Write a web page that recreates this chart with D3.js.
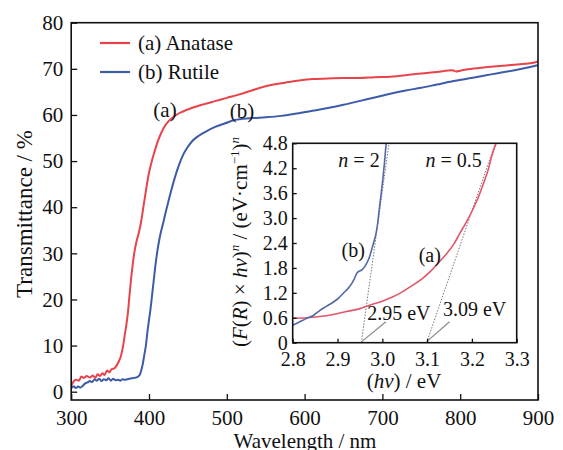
<!DOCTYPE html>
<html lang="en">
<head>
    <meta charset="UTF-8">
    <title>Transmittance of TiO2</title>
    <script src="https://d3js.org/d3.v7.min.js"></script>
    <style>
        body { margin: 0; background: #fff; }
        text { font-family: "Liberation Serif", "Times New Roman", serif; fill: #111; }
        .axis path { display: none; }
        .axis line { stroke: #111; stroke-width: 1.3px; }
        .frame { fill: none; stroke: #111; stroke-width: 1.6px; }
    </style>
</head>
<body>
    <script>
        // main chart: transmittance vs wavelength
        const anatase = [
            [300,1.3],[303,2.2],[306,2.6],[310,2.4],[313,3.3],[316,3.0],[320,3.4],[324,3.1],[328,3.5],[331,3.0],
            [334,3.8],[337,3.4],[340,4.0],[343,3.6],[346,4.6],[349,4.2],[352,4.9],[355,5.0],[358,5.6],[361,6.5],
            [364,7.8],[367,10.2],[369,12.5],[371,14.6],[373,17.3],[375,21],[377,24.5],[379,27.5],[381,30],[384,32.6],
            [387,34.5],[390,37],[393,40.3],[396,43.5],[399,46.6],[403,49.6],[407,52],[412,54.6],[416,56.2],[420,57.5],
            [425,58.6],[430,59.4],[436,60.1],[443,60.7],[455,61.5],[470,62.3],[485,63],[500,63.7],[515,64.4],[530,65.2],
            [545,66],[560,66.6],[575,67.0],[590,67.4],[610,67.8],[630,67.9],[650,68.0],[670,68.0],[690,68.2],[710,68.3],
            [730,68.6],[750,69.0],[770,69.3],[790,69.7],[795,69.4],[800,69.6],[810,69.9],[830,70.3],[850,70.6],
            [870,70.9],[890,71.2],[900,71.6]
        ];
        const rutile = [
            [300,0.7],[303,1.2],[306,0.8],[309,1.1],[312,0.9],[315,1.3],[318,1.8],[321,2.0],[324,2.3],[327,2.1],
            [330,2.7],[333,2.4],[336,2.8],[339,2.3],[342,2.7],[345,2.5],[348,2.9],[351,2.4],[354,2.8],[357,2.5],
            [360,2.6],[363,2.4],[366,2.7],[369,2.6],[372,2.7],[375,2.8],[378,2.9],[381,3.0],[384,3.1],[386,3.3],
            [388,3.6],[390,4.6],[392,6],[394,8],[396,10],[398,13],[400,15.5],[402,18],[404,21],[406,24],[408,27],
            [410,29.6],[412,31.8],[415,34.4],[418,36.4],[421,38.6],[425,41.3],[429,43.9],[433,46.3],[438,48.9],
            [444,51.4],[450,53.1],[456,54.4],[464,55.5],[472,56.3],[485,57.4],[498,58.2],[510,58.9],[530,59.3],
            [550,59.5],[570,59.8],[590,60.3],[610,60.9],[630,61.5],[650,62.2],[670,63.0],[690,63.8],[710,64.6],
            [730,65.3],[750,65.9],[770,66.6],[790,67.3],[810,67.9],[830,68.5],[850,69.1],[870,69.7],[890,70.4],
            [900,70.8]
        ];
        const xTicks = [300, 400, 500, 600, 700, 800, 900];
        const yTicks = [0, 10, 20, 30, 40, 50, 60, 70, 80];
        const curveLabels = [
            { text: "(a)", x: 420.6, y: 61.1 },
            { text: "(b)", x: 519.5, y: 60.9 }
        ];
        const legendItems = [
            { text: "(a) Anatase", color: "#e8434a" },
            { text: "(b) Rutile", color: "#3d5ca8" }
        ];

        // inset: Tauc-type plot
        const insetA = [
            [2.8,0.59],[2.83,0.6],[2.86,0.63],[2.89,0.68],[2.92,0.75],[2.95,0.82],[2.973,0.91],[3.0,1.0],
            [3.025,1.11],[3.05,1.26],[3.069,1.39],[3.09,1.55],[3.107,1.71],[3.125,1.92],[3.144,2.15],[3.16,2.38],
            [3.173,2.63],[3.19,2.95],[3.203,3.23],[3.215,3.52],[3.226,3.84],[3.236,4.15],[3.244,4.48],[3.254,4.8],
            [3.26,5.0]
        ];
        const insetB = [
            [2.8,0.42],[2.815,0.5],[2.83,0.58],[2.845,0.65],[2.861,0.78],[2.876,0.88],[2.891,0.98],[2.903,1.08],
            [2.913,1.19],[2.923,1.3],[2.932,1.43],[2.938,1.55],[2.943,1.67],[2.948,1.72],[2.954,1.75],[2.96,1.82],
            [2.965,1.91],[2.971,2.05],[2.976,2.23],[2.981,2.42],[2.986,2.63],[2.99,2.9],[2.993,3.19],[2.997,3.55],
            [3.001,3.92],[3.005,4.35],[3.008,4.72],[3.011,5.0]
        ];
        const tangentA = [[3.099, 0], [3.252, 4.8]];
        const tangentB = [[2.953, 0], [3.015, 4.8]];
        const pointerA = [[3.150, 0.506], [3.099, 0.025]];
        const pointerB = [[3.008, 0.506], [2.954, 0.025]];
        const insetXTicks = [2.8, 2.9, 3.0, 3.1, 3.2, 3.3];
        const insetYTicks = [0, 0.6, 1.2, 1.8, 2.4, 3.0, 3.6, 4.2, 4.8];
        const insetNotes = [
            { text: "2.95 eV", x: 3.037, y: 0.72 },
            { text: "3.09 eV", x: 3.206, y: 0.80 },
            { text: "(b)", x: 2.935, y: 2.23 },
            { text: "(a)", x: 3.106, y: 2.11 }
        ];
        const nNotes = [
            { n: "2", x: 2.948, y: 4.40 },
            { n: "0.5", x: 3.159, y: 4.40 }
        ];

        const width = 563, height = 450;
        const svg = d3.select("body").append("svg")
            .attr("width", width)
            .attr("height", height);
        svg.append("rect").attr("width", width).attr("height", height).attr("fill", "#fff");

        // main scales
        const x = d3.scaleLinear().domain([300, 900]).range([71.2, 538]);
        const y = d3.scaleLinear().domain([-1.8, 80]).range([400, 22.7]);

        const line = d3.line().x(d => x(d[0])).y(d => y(d[1])).curve(d3.curveMonotoneX);

        svg.append("path").datum(rutile)
            .attr("d", line).attr("fill", "none")
            .attr("stroke", legendItems[1].color).attr("stroke-width", 2);
        svg.append("path").datum(anatase)
            .attr("d", line).attr("fill", "none")
            .attr("stroke", legendItems[0].color).attr("stroke-width", 2);

        svg.append("g").attr("class", "axis")
            .attr("transform", "translate(71.2,0)")
            .call(d3.axisLeft(y).tickValues(yTicks).tickSizeInner(-6).tickSizeOuter(0).tickPadding(8))
            .selectAll("text").attr("font-size", 21);
        svg.append("g").attr("class", "axis")
            .attr("transform", "translate(0,400)")
            .call(d3.axisBottom(x).tickValues(xTicks).tickSizeInner(-6).tickSizeOuter(0).tickPadding(10))
            .selectAll("text").attr("font-size", 21);
        svg.selectAll(".axis text").style("font-family", "'Liberation Serif', serif").attr("fill", "#111");

        svg.append("rect").attr("class", "frame")
            .attr("x", 71.2).attr("y", 22.7)
            .attr("width", 538 - 71.2).attr("height", 400 - 22.7);

        svg.append("text")
            .attr("transform", "translate(24,214) rotate(-90)")
            .attr("text-anchor", "middle").attr("dy", "0.35em")
            .attr("font-size", 23)
            .text("Transmittance / %");
        svg.append("text")
            .attr("x", 305).attr("y", 441)
            .attr("text-anchor", "middle").attr("dy", "0.35em")
            .attr("font-size", 21)
            .text("Wavelength / nm");

        // legend
        const legend = svg.append("g").attr("transform", "translate(100,43)");
        legendItems.forEach((d, i) => {
            const g = legend.append("g").attr("transform", `translate(0,${i * 29})`);
            g.append("line").attr("x1", 0).attr("x2", 30)
                .attr("stroke", d.color).attr("stroke-width", 2.2);
            g.append("text").attr("x", 38).attr("dy", "0.33em")
                .attr("font-size", 21).text(d.text);
        });

        svg.selectAll(".curve-label").data(curveLabels).enter().append("text")
            .attr("class", "curve-label")
            .attr("x", d => x(d.x)).attr("y", d => y(d.y))
            .attr("text-anchor", "middle").attr("dy", "0.35em")
            .attr("font-size", 21)
            .text(d => d.text);

        // inset
        const ix = d3.scaleLinear().domain([2.8, 3.3]).range([292.7, 516.7]);
        const iy = d3.scaleLinear().domain([0, 4.8]).range([342.7, 143.3]);
        const iline = d3.line().x(d => ix(d[0])).y(d => iy(d[1]));

        svg.append("rect")
            .attr("x", 292.7).attr("y", 143.3)
            .attr("width", 516.7 - 292.7).attr("height", 342.7 - 143.3)
            .attr("fill", "#fff");

        svg.append("clipPath").attr("id", "insetClip")
            .append("rect")
            .attr("x", 292.7).attr("y", 143.3)
            .attr("width", 516.7 - 292.7).attr("height", 342.7 - 143.3);

        const inset = svg.append("g").attr("clip-path", "url(#insetClip)");
        [tangentA, tangentB].forEach(t => {
            inset.append("path").datum(t).attr("d", iline)
                .attr("fill", "none").attr("stroke", "#777")
                .attr("stroke-width", 1).attr("stroke-dasharray", "1.5,1.5");
        });
        [pointerA, pointerB].forEach(p => {
            inset.append("path").datum(p).attr("d", iline)
                .attr("fill", "none").attr("stroke", "#888").attr("stroke-width", 1.2);
        });
        inset.append("path").datum(insetA).attr("d", iline.curve(d3.curveMonotoneX))
            .attr("fill", "none").attr("stroke", "#e2566a").attr("stroke-width", 1.6);
        inset.append("path").datum(insetB).attr("d", iline)
            .attr("fill", "none").attr("stroke", "#5468a8").attr("stroke-width", 1.6);

        svg.append("g").attr("class", "axis")
            .attr("transform", "translate(292.7,0)")
            .call(d3.axisLeft(iy).tickValues(insetYTicks).tickFormat(d => d === 0 ? "0" : d3.format(".1f")(d))
                .tickSizeInner(-4).tickSizeOuter(0).tickPadding(5))
            .selectAll("text").attr("font-size", 20);
        svg.append("g").attr("class", "axis")
            .attr("transform", "translate(0,342.7)")
            .call(d3.axisBottom(ix).tickValues(insetXTicks).tickFormat(d3.format(".1f"))
                .tickSizeInner(-4).tickSizeOuter(0).tickPadding(9))
            .selectAll("text").attr("font-size", 20);
        svg.selectAll(".axis text").style("font-family", "'Liberation Serif', serif").attr("fill", "#111");

        svg.append("rect").attr("class", "frame")
            .attr("x", 292.7).attr("y", 143.3)
            .attr("width", 516.7 - 292.7).attr("height", 342.7 - 143.3)
            .attr("stroke-width", 1.4);

        svg.selectAll(".inset-note").data(insetNotes).enter().append("text")
            .attr("class", "inset-note")
            .attr("x", d => ix(d.x)).attr("y", d => iy(d.y))
            .attr("text-anchor", "middle").attr("dy", "0.35em")
            .attr("font-size", 20)
            .text(d => d.text);

        nNotes.forEach(d => {
            const t = svg.append("text")
                .attr("x", ix(d.x)).attr("y", iy(d.y))
                .attr("text-anchor", "middle").attr("dy", "0.35em")
                .attr("font-size", 20);
            t.append("tspan").attr("font-style", "italic").text("n");
            t.append("tspan").text(" = " + d.n);
        });

        // inset axis titles
        const yl = svg.append("text")
            .attr("transform", "translate(240,242) rotate(-90)")
            .attr("text-anchor", "middle").attr("dy", "0.35em")
            .attr("font-size", 21);
        yl.append("tspan").text("(");
        yl.append("tspan").attr("font-style", "italic").text("F");
        yl.append("tspan").text("(");
        yl.append("tspan").attr("font-style", "italic").text("R");
        yl.append("tspan").text(") × ");
        yl.append("tspan").attr("font-style", "italic").text("hv");
        yl.append("tspan").text(")");
        yl.append("tspan").attr("font-style", "italic").attr("font-size", 13).attr("dy", -8).text("n");
        yl.append("tspan").attr("dy", 8).text(" / (eV·cm");
        yl.append("tspan").attr("font-size", 13).attr("dy", -8).text("−1");
        yl.append("tspan").attr("dy", 8).text(")");
        yl.append("tspan").attr("font-style", "italic").attr("font-size", 13).attr("dy", -8).text("n");

        const xl = svg.append("text")
            .attr("x", 404).attr("y", 381)
            .attr("text-anchor", "middle").attr("dy", "0.35em")
            .attr("font-size", 21);
        xl.append("tspan").text("(");
        xl.append("tspan").attr("font-style", "italic").text("hv");
        xl.append("tspan").text(") / eV");
    </script>
</body>
</html>
